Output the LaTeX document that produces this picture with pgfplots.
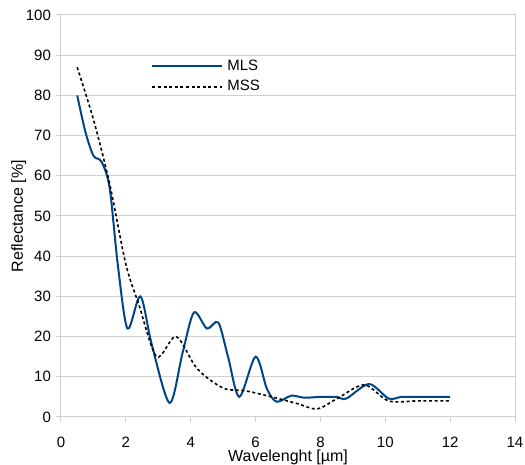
\documentclass[border=0pt]{standalone}
\usepackage{pgfplots}
\pgfplotsset{compat=1.18}
\usepackage{fontspec}
\setmainfont{Liberation Sans}
\definecolor{mlsblue}{HTML}{004586}
\definecolor{gridgray}{HTML}{D0D0D0}

\begin{document}
\begin{tikzpicture}
\useasboundingbox (-30.5pt,-24pt) rectangle (232pt,208.5pt);
\begin{axis}[
  scale only axis, width=227pt, height=201pt,
  xmin=0, xmax=14, ymin=0, ymax=100,
  xtick={0,2,...,14}, ytick={0,10,...,100},
  ymajorgrids, grid style={gridgray, line width=0.5pt},
  axis line style={gridgray, line width=0.5pt},
  tick style={gridgray, line width=0.5pt},
  tick align=outside, major tick length=2.5pt,
  xtick pos=bottom, ytick pos=left,
  font=\fontsize{7.5}{9}\selectfont,
  /pgf/number format/assume math mode=true,
  xlabel={Wavelenght [µm]}, ylabel={Reflectance [\%]},
  label style={font=\fontsize{8}{9.6}\selectfont},
  xlabel style={yshift=6pt}, ylabel style={yshift=-7pt},
  x tick label style={yshift=-4pt},
  y tick label style={xshift=1pt},
  legend style={at={(0.185,0.91)}, anchor=north west, draw=none, fill=none,
    font=\fontsize{7.5}{9}\selectfont, row sep=-0.5pt},
  legend cell align=left,
  legend image code/.code={\draw[#1] (0pt,0pt) -- (35pt,0pt);},
]
\addplot[mlsblue, line width=1pt, smooth] coordinates {
  (0.5,80) (0.75,71) (1.0,65) (1.25,63.5) (1.5,57) (1.75,38) (2.05,22)
  (2.45,30) (2.8,18) (3.35,3.5) (3.75,16) (4.1,26) (4.5,22) (4.85,23.5)
  (5.15,15) (5.5,5) (6.0,15) (6.35,7) (6.65,3.8) (7.1,5.3) (7.5,4.8)
  (8,5) (8.5,5) (8.8,4.6) (9.5,8.2) (10.1,4.6) (10.5,5) (11,5) (12,5)
};
\addlegendentry{MLS}
\addplot[black, line width=0.8pt, dash pattern=on 1.5pt off 1.3pt, smooth] coordinates {
  (0.5,87) (1,74) (1.5,58) (2,38) (2.4,28) (2.95,15) (3.55,20) (4.2,12)
  (5,7.2) (5.7,6.5) (6.5,5) (7.3,3.3) (7.9,2) (8.5,4.5) (9.35,8)
  (10.1,4) (11,4) (12,4)
};
\addlegendentry{MSS}
\end{axis}
\end{tikzpicture}
\end{document}
